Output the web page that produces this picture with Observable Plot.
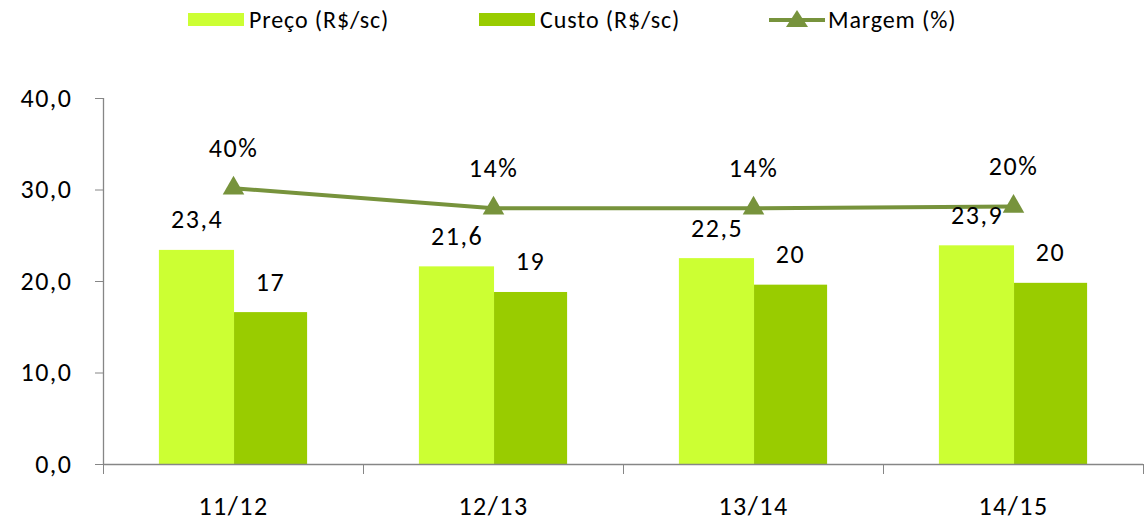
<!DOCTYPE html>
<html><head><meta charset="utf-8">
<script src="https://cdn.jsdelivr.net/npm/d3@7"></script>
<script src="https://cdn.jsdelivr.net/npm/@observablehq/plot@0.6"></script>
<style>
body{margin:0;background:#fff;font-family:Carlito,Lato,sans-serif;color:#000;}
#legend{position:relative;height:40px;font-size:24px;letter-spacing:0.9px;}
.item{position:absolute;top:0;height:38px;display:flex;align-items:center;}
.sw{width:56px;height:13px;margin-right:5px;}
.ln{margin-right:3px;}
#chart svg text{letter-spacing:1.5px;}
</style></head><body>
<div id="legend"></div><div id="chart"></div>
<script>
// Data
const safras = ["11/12", "12/13", "13/14", "14/15"];
const preco = [23.4, 21.6, 22.5, 23.9];          // Preço (R$/sc)
const custo = [16.6, 18.8, 19.6, 19.8];          // Custo (R$/sc)
const margem = [40, 14, 14, 20];                 // Margem (%) labels
const margemNivel = [30.2, 28.0, 28.0, 28.2];    // line level read on the (hidden) secondary axis, in primary units
const yTicks = [0, 10, 20, 30, 40];
const seriesNames = ["Preço (R$/sc)", "Custo (R$/sc)", "Margem (%)"];

const cPreco = "#CCFF33", cCusto = "#99CC00", cMargem = "#77933C", cAxis = "#868686";

const rows = safras.map((s, i) => ({safra: s, preco: preco[i], custo: custo[i], margem: margem[i], nivel: margemNivel[i]}));

// Legend
const leg = document.getElementById("legend");
leg.innerHTML =
  `<div class="item" style="left:188px"><div class="sw" style="background:${cPreco}"></div><span>${seriesNames[0]}</span></div>` +
  `<div class="item" style="left:479px"><div class="sw" style="background:${cCusto}"></div><span>${seriesNames[1]}</span></div>` +
  `<div class="item" style="left:769px"><svg class="ln" width="56" height="24"><line x1="0" y1="13" x2="56" y2="13" stroke="${cMargem}" stroke-width="4"/><path d="M28,3 L39,20 L17,20 Z" fill="${cMargem}"/></svg><span>${seriesNames[2]}</span></div>`;

const W = 1146, mL = 103, mR = 3;
const bw = (W - mL - mR) / safras.length;
const fmt1 = d => d.toFixed(1).replace(".", ",");
const fmt0 = d => d.toFixed(0);

const chart = Plot.plot({
  width: W, height: 481,
  marginTop: 58, marginBottom: 57, marginLeft: mL, marginRight: mR,
  style: {fontFamily: "Carlito, Lato, sans-serif", fontSize: "25px", color: "#000", background: "#fff"},
  x: {domain: safras, padding: 0, axis: null},
  y: {domain: [0, 40], axis: null},
  marks: [
    Plot.barY(rows, {x: "safra", y: "preco", fill: cPreco, insetLeft: bw * 0.215, insetRight: bw * 0.496}),
    Plot.barY(rows, {x: "safra", y: "custo", fill: cCusto, insetLeft: bw * 0.504, insetRight: bw * 0.215}),
    Plot.ruleY([0], {stroke: cAxis, strokeWidth: 1.3}),
    Plot.ruleX([safras[0]], {dx: -bw / 2, stroke: cAxis, strokeWidth: 1.3}),
    Plot.axisY({ticks: yTicks, tickFormat: fmt1, tickSize: 8, tickPadding: 23, stroke: cAxis, fill: "#000", fontSize: 26, label: null}),
    Plot.axisX({ticks: safras, tickFormat: () => "", tickSize: 10, dx: bw / 2, stroke: cAxis, label: null}),
    Plot.axisX({ticks: [safras[0]], tickFormat: () => "", tickSize: 10, dx: -bw / 2, stroke: cAxis, label: null}),
    Plot.axisX({ticks: safras, tickSize: 0, tickPadding: 32, fill: "#000", fontSize: 26, label: null}),
    Plot.line(rows, {x: "safra", y: "nivel", stroke: cMargem, strokeWidth: 4}),
    Plot.dot(rows, {x: "safra", y: "nivel", symbol: "triangle", r: 8, fill: cMargem, stroke: "none"}),
    Plot.text(rows, {x: "safra", y: "preco", text: d => fmt1(d.preco), dx: -bw * 0.14, dy: -22, lineAnchor: "bottom", fontSize: 26}),
    Plot.text(rows, {x: "safra", y: "custo", text: d => fmt0(d.custo), dx: bw * 0.142, dy: -22, lineAnchor: "bottom", fontSize: 26}),
    Plot.text(rows, {x: "safra", y: "nivel", text: d => d.margem + "%", dy: -31, lineAnchor: "bottom", fontSize: 26})
  ]
});
document.getElementById("chart").appendChild(chart);
</script>
</body></html>
